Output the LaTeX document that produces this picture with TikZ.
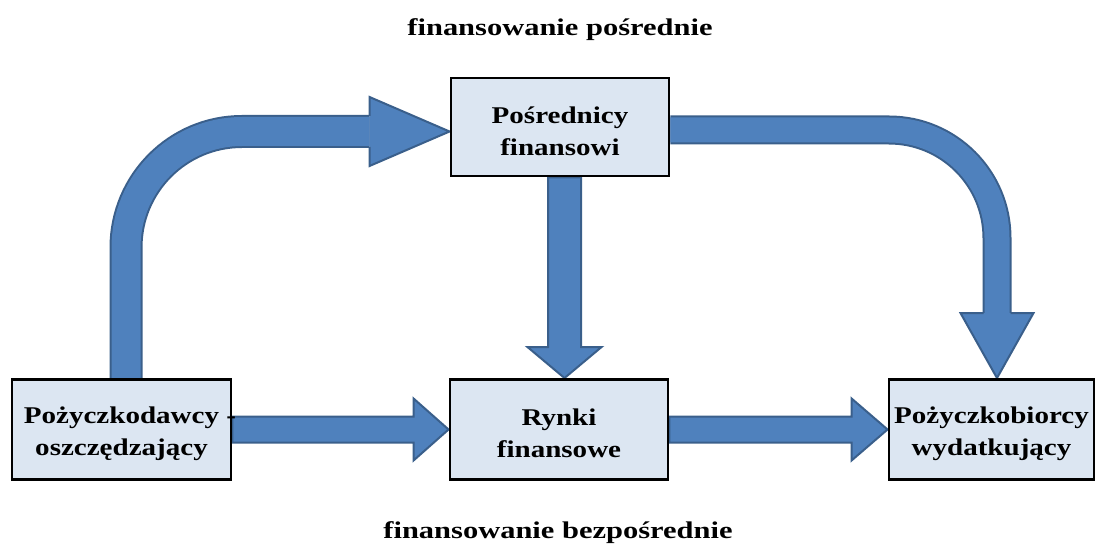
\documentclass[tikz,border=0pt]{standalone}
\usepackage{fontspec}
\newfontfamily\boxfont{Liberation Serif}[FakeStretch=1.21]
\newfontfamily\headfont{Liberation Serif}[FakeStretch=1.27]
\usetikzlibrary{calc,backgrounds}
\definecolor{boxfill}{HTML}{DCE6F2}
\definecolor{flowfill}{HTML}{4F81BD}
\definecolor{flowline}{HTML}{3A5F8B}
% taller first line, so the two lines sit a little low in each box
\newcommand\firstline{\rule{0pt}{25pt}}

\begin{document}
\begin{tikzpicture}[x=1pt,y=-1pt,
  box/.style={draw=black, line width=2.9pt, fill=boxfill, align=center, inner sep=0pt,
    font=\boxfont\bfseries\fontsize{24}{32}\selectfont},
  heading/.style={font=\headfont\bfseries\fontsize{24}{30}\selectfont, anchor=base, inner sep=0pt},
  flow/.style={fill=flowfill, draw=flowline, line width=2pt, line join=miter},
  bendouter/.style={draw=flowline, line cap=butt},
  bendinner/.style={draw=flowfill, line cap=butt},
  headline/.style={draw=flowline, line width=2pt, line join=miter}]
\useasboundingbox (0,0) rectangle (1098,545);

% boxes
\node[box, minimum width=219pt, minimum height=100pt] (lend) at (121.5,429.5)
  {\firstline Pożyczkodawcy\rlap{ -}\\oszczędzający};
\node[box, minimum width=218pt, minimum height=98pt] (pos) at (560,127)
  {\firstline Pośrednicy\\finansowi};
\node[box, minimum width=218pt, minimum height=100pt] (ryn) at (559,429.5)
  {\firstline Rynki\\finansowe};
\node[box, minimum width=205pt, minimum height=100pt] (bor) at (991.5,429.5)
  {\firstline Pożyczkobiorcy\\wydatkujący};

% headings
\node[heading] (top) at (560,36) {finansowanie pośrednie};
\node[heading] (bottom) at (558,538) {finansowanie bezpośrednie};

\begin{scope}[on background layer]
  % lenders -> markets
  \filldraw[flow] ($(lend.east)+(0,-13)$) -- ($(ryn.west)+(-35,-13)$) -- ($(ryn.west)+(-35,-31)$)
    -- (ryn.west) -- ($(ryn.west)+(-35,31)$) -- ($(ryn.west)+(-35,13)$) -- ($(lend.east)+(0,13)$) -- cycle;
  % markets -> borrowers
  \filldraw[flow] ($(ryn.east)+(0,-13)$) -- ($(bor.west)+(-36,-13)$) -- ($(bor.west)+(-36,-31)$)
    -- (bor.west) -- ($(bor.west)+(-36,31)$) -- ($(bor.west)+(-36,13)$) -- ($(ryn.east)+(0,13)$) -- cycle;
  % intermediaries -> markets
  \coordinate (a3s) at ($(pos.south)+(4.5,0)$);
  \coordinate (a3t) at (a3s |- ryn.north);
  \filldraw[flow] ($(a3s)+(-16.5,0)$) -- ($(a3t)+(-16.5,-31)$) -- ($(a3t)+(-37,-31)$) -- (a3t)
    -- ($(a3t)+(37,-31)$) -- ($(a3t)+(16.5,-31)$) -- ($(a3s)+(16.5,0)$) -- cycle;

  % lenders -> intermediaries (bent)
  \coordinate (a4s) at ($(lend.north)+(4.5,0)$);
  \coordinate (a4t) at ($(pos.west)+(0,4.5)$);
  \coordinate (a4b) at ($(a4t)+(-80,0)$);
  \draw[bendouter, line width=33pt, rounded corners=116pt] (a4s) |- (a4b);
  \draw[bendinner, line width=29pt, rounded corners=116pt] (a4s) |- (a4b);
  \fill[flowfill] ($(a4b)+(0,-34.5)$) -- (a4t) -- ($(a4b)+(0,34.5)$) -- cycle;
  \draw[headline] ($(a4b)+(0,-15.5)$) -- ($(a4b)+(0,-34.5)$) -- (a4t) -- ($(a4b)+(0,34.5)$) -- ($(a4b)+(0,15.5)$);

  % intermediaries -> borrowers (bent)
  \coordinate (a5s) at ($(pos.east)+(0,3)$);
  \coordinate (a5t) at ($(bor.north)+(5.5,0)$);
  \coordinate (a5b) at ($(a5t)+(0,-65)$);
  \draw[bendouter, line width=29pt, rounded corners=108pt] (a5s) -| (a5b);
  \draw[bendinner, line width=25pt, rounded corners=108pt] (a5s) -| (a5b);
  \fill[flowfill] ($(a5b)+(-36.5,0)$) -- (a5t) -- ($(a5b)+(36.5,0)$) -- cycle;
  \draw[headline] ($(a5b)+(-13.5,0)$) -- ($(a5b)+(-36.5,0)$) -- (a5t) -- ($(a5b)+(36.5,0)$) -- ($(a5b)+(13.5,0)$);
\end{scope}
\end{tikzpicture}
\end{document}
